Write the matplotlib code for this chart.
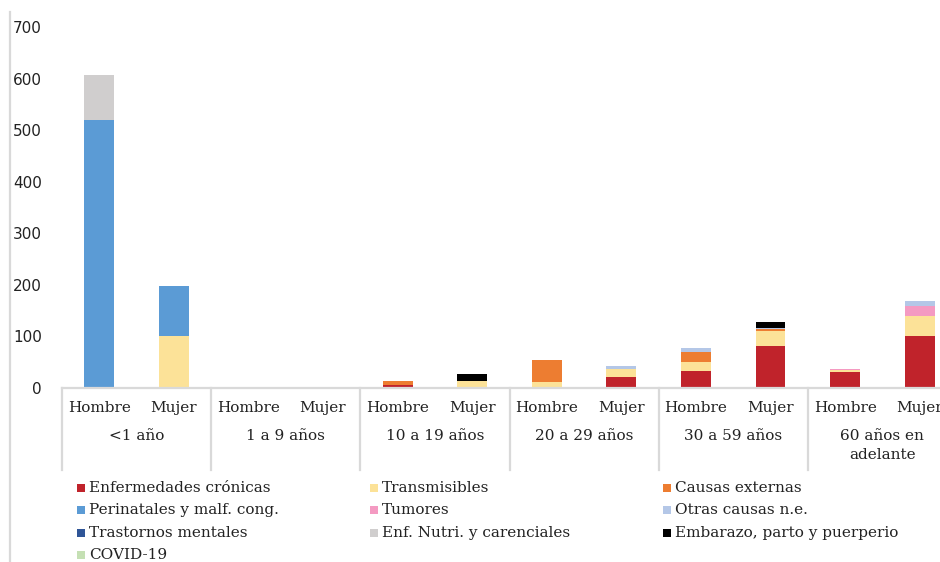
import numpy as np
import matplotlib.pyplot as plt
from matplotlib.lines import Line2D
from matplotlib.patches import Rectangle
import matplotlib.transforms as mtransforms

age_groups = ["<1 año", "1 a 9 años", "10 a 19 años", "20 a 29 años",
              "30 a 59 años", "60 años en\nadelante"]
sexes = ["Hombre", "Mujer"]

# one value per bar: (<1 H, <1 M, 1-9 H, 1-9 M, 10-19 H, 10-19 M, ...)
cronicas     = [0, 0,   0, 0, 6, 0,  0, 21, 32, 82, 31, 100]
transmisibles = [0, 100, 0, 0, 0, 14, 12, 15, 18, 28, 4, 40]
externas     = [0, 0,   0, 0, 7, 0,  42, 0, 19, 5,  0, 0]
perinatales  = [520, 98, 0, 0, 0, 0, 0, 0,  0, 0,  0, 0]
tumores      = [0, 0,   0, 0, 0, 0,  0, 0,  0, 0,  2, 19]
otras        = [0, 0,   0, 0, 0, 0,  0, 7,  8, 2,  0, 10]
mentales     = [0, 0,   0, 0, 0, 0,  0, 0,  0, 0,  0, 0]
nutri        = [87, 0,  0, 0, 0, 0,  0, 0,  0, 0,  0, 0]
embarazo     = [0, 0,   0, 0, 0, 13, 0, 0,  0, 11, 0, 0]
covid        = [0, 0,   0, 0, 0, 0,  0, 0,  0, 0,  0, 0]

series = [
    ("Enfermedades crónicas", cronicas, "#C0232B"),
    ("Transmisibles", transmisibles, "#FCE298"),
    ("Causas externas", externas, "#ED7D31"),
    ("Perinatales y malf. cong.", perinatales, "#5B9BD5"),
    ("Tumores", tumores, "#F49AC2"),
    ("Otras causas n.e.", otras, "#B4C7E7"),
    ("Trastornos mentales", mentales, "#2F5597"),
    ("Enf. Nutri. y carenciales", nutri, "#D0CECE"),
    ("Embarazo, parto y puerperio", embarazo, "#000000"),
    ("COVID-19", covid, "#C5E0B4"),
]
# legend is laid out row by row, three per row
legend_order = [0, 1, 2, 3, 4, 5, 6, 7, 8, 9]

serif = "DejaVu Serif"
grey = "#D9D9D9"

W, H = 940, 562
fig = plt.figure(figsize=(W / 100, H / 100), dpi=100)

ax_left, ax_right = 62, 957
ax_top, ax_bottom = 27, 388
ax = fig.add_axes([ax_left / W, 1 - ax_bottom / H,
                   (ax_right - ax_left) / W, (ax_bottom - ax_top) / H])

x = np.arange(len(cronicas))
bottom = np.zeros(len(x))
for name, vals, color in series:
    vals = np.array(vals, dtype=float)
    ax.bar(x, vals, width=0.4, bottom=bottom, color=color, label=name,
           linewidth=0)
    bottom += vals

ax.set_xlim(-0.5, len(x) - 0.5)
ax.set_ylim(0, 700)
ax.set_yticks(range(0, 701, 100))
ax.tick_params(axis="y", length=0, pad=14.5, labelsize=11,
               labelcolor="#222222")
ax.set_xticks([])
for s in ["top", "right", "left"]:
    ax.spines[s].set_visible(False)
ax.spines["bottom"].set_color(grey)
ax.spines["bottom"].set_linewidth(1.6)

# multi-level category axis
ax_h = ax_bottom - ax_top
trans = mtransforms.blended_transform_factory(ax.transData, ax.transAxes)
sep_len = (470 - ax_bottom) / ax_h
for k in range(len(age_groups) + 1):
    xs = 2 * k - 0.5
    ax.add_line(Line2D([xs, xs], [0, -sep_len], transform=trans,
                       color=grey, lw=1.6, clip_on=False))

for i, xi in enumerate(x):
    ax.text(xi, -(408 - ax_bottom) / ax_h, sexes[i % 2], transform=trans,
            ha="center", va="center", fontsize=11, family=serif,
            color="#222222")
for g, label in enumerate(age_groups):
    ax.text(2 * g + 0.5, -(429 - ax_bottom) / ax_h, label, transform=trans,
            ha="center", va="top", fontsize=11, family=serif,
            color="#222222", linespacing=1.45)

# left border line of the chart area
fig.add_artist(Line2D([10 / W, 10 / W], [0, 1 - 12 / H],
                      transform=fig.transFigure, color=grey, lw=1.6))

# legend
col_x = [77, 370, 663]
row_y = [488, 510, 533, 555]
for n, idx in enumerate(legend_order):
    name, _, color = series[idx]
    cx = col_x[n % 3]
    cy = row_y[n // 3]
    fig.add_artist(Rectangle((cx / W, 1 - (cy + 4) / H), 8 / W, 8 / H,
                             transform=fig.transFigure, color=color,
                             linewidth=0))
    fig.text((cx + 12) / W, 1 - cy / H, name, ha="left", va="center",
             fontsize=11, family=serif, color="#222222")

fig.savefig("out.png", dpi=100)
